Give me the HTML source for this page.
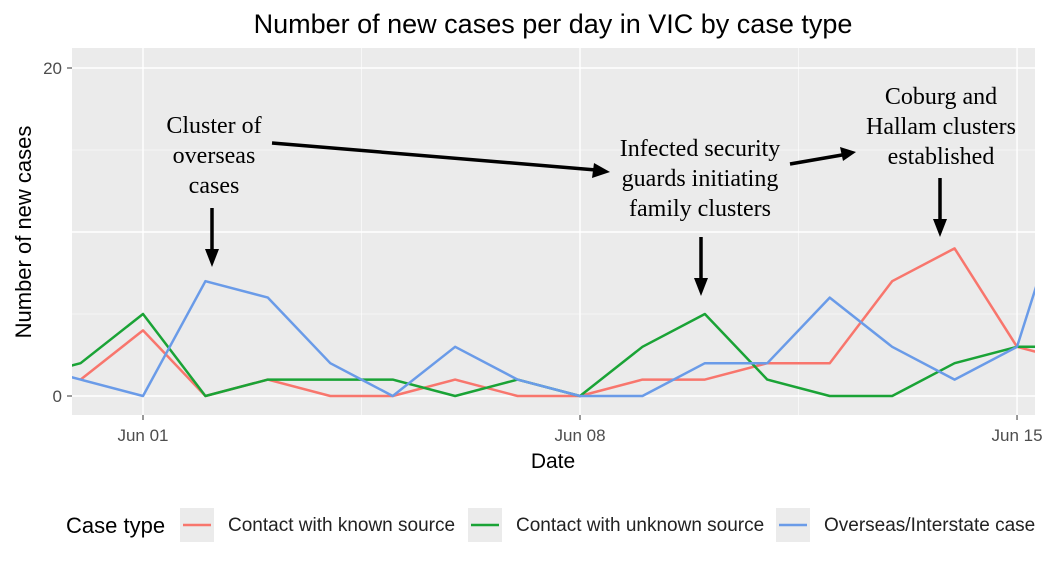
<!DOCTYPE html>
<html><head><meta charset="utf-8"><style>
body{margin:0;background:#fff;width:1053px;height:565px;overflow:hidden}
svg text{font-family:"Liberation Sans",sans-serif}
.ann{font-family:"Liberation Serif",serif;font-size:24px;fill:#000}
</style></head><body>
<svg width="1053" height="565">
<defs><clipPath id="pc"><rect x="72" y="48" width="963" height="367"/></clipPath></defs>
<text x="553" y="33" text-anchor="middle" font-size="27" fill="#000">Number of new cases per day in VIC by case type</text>
<rect x="72" y="48" width="963" height="367" fill="#ebebeb"/>
<g id="grid"></g>
<g id="series" clip-path="url(#pc)"></g>
<g id="axes"></g>
<text transform="translate(31,232) rotate(-90)" text-anchor="middle" font-size="22" fill="#000">Number of new cases</text>
<text x="553" y="468" text-anchor="middle" font-size="21" fill="#000">Date</text>
<g>
<text class="ann" x="214" y="133" text-anchor="middle">Cluster of</text>
<text class="ann" x="214" y="163" text-anchor="middle">overseas</text>
<text class="ann" x="214" y="193" text-anchor="middle">cases</text>
<text class="ann" x="700" y="156" text-anchor="middle">Infected security</text>
<text class="ann" x="700" y="186" text-anchor="middle">guards initiating</text>
<text class="ann" x="700" y="216" text-anchor="middle">family clusters</text>
<text class="ann" x="941" y="104" text-anchor="middle">Coburg and</text>
<text class="ann" x="941" y="134" text-anchor="middle">Hallam clusters</text>
<text class="ann" x="941" y="164" text-anchor="middle">established</text>
<g stroke="#000" stroke-width="3.5" fill="none">
<line x1="272" y1="143" x2="596" y2="170"/>
<line x1="790" y1="164" x2="842" y2="155"/>
<line x1="212" y1="208" x2="212" y2="252"/>
<line x1="701" y1="237" x2="701" y2="281"/>
<line x1="940" y1="178" x2="940" y2="222"/>
</g>
<g fill="#000">
<polygon points="610,172 594,163 592,178"/>
<polygon points="856,152 840,147 843,161"/>
<polygon points="212,267 205,249 219,249"/>
<polygon points="701,296 694,278 708,278"/>
<polygon points="940,237 933,219 947,219"/>
</g></g>
<g>
<text x="66" y="533" font-size="22" fill="#000">Case type</text>
<rect x="180" y="508" width="34" height="34" fill="#ebebeb"/><line x1="183" y1="525" x2="211" y2="525" stroke="#F8766D" stroke-width="2.5"/>
<text x="228" y="531" font-size="19" fill="#222">Contact with known source</text>
<rect x="468" y="508" width="34" height="34" fill="#ebebeb"/><line x1="471" y1="525" x2="499" y2="525" stroke="#1AA336" stroke-width="2.5"/>
<text x="516" y="531" font-size="19" fill="#222">Contact with unknown source</text>
<rect x="776" y="508" width="34" height="34" fill="#ebebeb"/><line x1="779" y1="525" x2="807" y2="525" stroke="#6A9BE8" stroke-width="2.5"/>
<text x="824" y="531" font-size="19" fill="#222">Overseas/Interstate case</text>
</g>
</svg>
<script>
const days = [-2,-1,0,1,2,3,4,5,6,7,8,9,10,11,12,13,14,15]; // days offset from Jun 01 (May30..Jun16)
const knownSource = [null,1,4,0,1,0,0,1,0,0,1,1,2,2,7,9,3,2];
const unknownSource = [1,2,5,0,1,1,1,0,1,0,3,5,1,0,0,2,3,3];
const overseas = [2,1,0,7,6,2,0,3,1,0,0,2,2,6,3,1,3,15];
const yTicks = [0,20];
const yGrid = [0,5,10,15,20];
const xTickDays = [0,7,14];
const xMinorDays = [3.5,10.5];
const xTickLabels = ["Jun 01","Jun 08","Jun 15"];
const NS="http://www.w3.org/2000/svg";
const xS=d=>143+d*62.43, yS=v=>396-v*16.4;
function mk(tag,attrs,parent){const e=document.createElementNS(NS,tag);for(const k in attrs)e.setAttribute(k,attrs[k]);parent.appendChild(e);return e;}
const grid=document.getElementById('grid'), axes=document.getElementById('axes'), ser=document.getElementById('series');
yGrid.forEach(v=>{const l=mk('line',{x1:72,x2:1035,y1:yS(v),y2:yS(v),stroke:'#fff','stroke-width':v%10===0?1.4:0.6},grid);

});
xMinorDays.forEach(d=>{const l=mk('line',{x1:xS(d),x2:xS(d),y1:48,y2:415,stroke:'#fff','stroke-width':0.6},grid);

});
xTickDays.forEach((d,i)=>{const l=mk('line',{x1:xS(d),x2:xS(d),y1:48,y2:415,stroke:'#fff','stroke-width':1.4},grid);


mk('line',{x1:xS(d),x2:xS(d),y1:415,y2:420,stroke:'#333'},axes);
const t=mk('text',{x:xS(d),y:441,'text-anchor':'middle','font-size':17,fill:'#4d4d4d'},axes);t.textContent=xTickLabels[i];

});
yTicks.forEach(v=>{mk('line',{x1:67,x2:72,y1:yS(v),y2:yS(v),stroke:'#333'},axes);
const t=mk('text',{x:62,y:yS(v)+6,'text-anchor':'end','font-size':17,fill:'#4d4d4d'},axes);t.textContent=v;

});
[[knownSource,'#F8766D','known-source-line'],[unknownSource,'#1AA336','unknown-source-line'],[overseas,'#6A9BE8','overseas-line']].forEach(([arr,c,n])=>{
const pts=[];arr.forEach((v,i)=>{if(v!==null)pts.push(xS(days[i])+','+yS(v));});
const p=mk('polyline',{points:pts.join(' '),fill:'none',stroke:c,'stroke-width':2.5,'stroke-linejoin':'round'},ser);

});
</script>
</body></html>
